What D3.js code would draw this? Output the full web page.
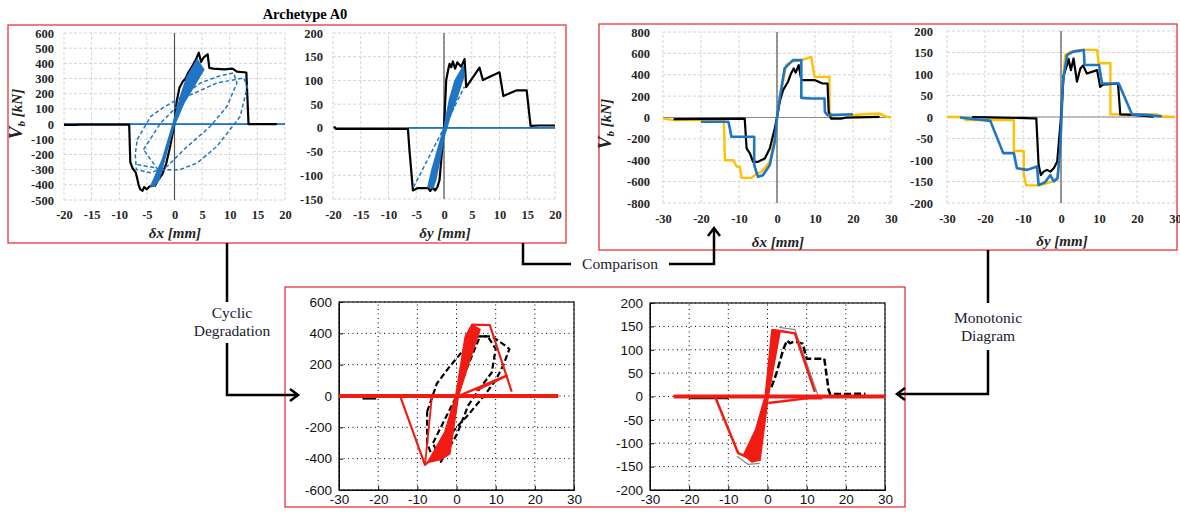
<!DOCTYPE html>
<html>
<head>
<meta charset="utf-8">
<script src="https://cdn.jsdelivr.net/npm/d3@7"></script>
<style>
  body { margin: 0; background: #fff; }
  svg { display: block; }
  .serif { font-family: "Liberation Serif", "DejaVu Serif", "Times New Roman", serif; }
  .sans { font-family: "Liberation Sans", Arial, sans-serif; }
</style>
</head>
<body>
<div id="chart"></div>
<script>

// ---------- data ([displacement mm, Vb kN]) ----------

// panel 1 : cyclic, dx
var dxBlack = [[-20,-5],[-18,-5],[-17,-3],[-8.2,-3],[-8,-250],[-7.6,-290],[-7,-320],[-6.8,-350],[-6.5,-400],[-6.2,-430],
  [-5.8,-440],[-5.5,-415],[-5,-430],[-4.5,-410],[-3.5,-405],[-3,-370],[-2.2,-330],[-1.5,-260],[-0.8,-150],[0,0],
  [0.4,150],[0.9,240],[1.5,280],[2,300],[2.5,340],[3.2,380],[3.8,420],[4.4,470],[4.8,410],[5.3,440],[6,460],[6.3,370],
  [7,365],[9,360],[10.5,365],[11.3,345],[13,340],[13.4,0],[18.5,0]];
var dxBlueBand = [[-4.3,-410],[-2.2,-234],[-0.4,-14],[1.1,183],[2.3,315],[4.1,425],[5.3,359],[3.5,249],[1.7,139],
  [-0.1,-14],[-1.3,-168],[-2.8,-366],[-3.7,-410]];
var dxBlueLoopA = [[-6.75,-102],[-4.3,51],[-2,110],[0.5,161],[4.7,271],[8,315],[10.7,337],[11.3,271],[9.5,117],
  [6.5,-14],[1.7,-168],[-1.3,-278],[-4.3,-321],[-6.9,-300],[-7.1,-200],[-6.75,-102]];
var dxBlueLoopB = [[-5.6,-168],[-2.5,8],[2.3,183],[7.7,271],[12.5,304],[13.2,249],[11.9,51],[7.7,-146],[4.1,-256],
  [1,-300],[-3,-300],[-5.6,-168]];
var dxBlueFlat = [[-6.75,-267],[-3.4,-288]];
var dxZero = [[-20,0],[20,0]];

// panel 2 : cyclic, dy
var dyBlack = [[-19.8,3],[-19.5,-2],[-6.5,-2],[-6.2,-50],[-5.6,-132],[-4.7,-127],[-2.8,-127],[-2.5,-133],[-2,-126],
  [-1.6,-132],[-1.2,-125],[-0.8,-110],[0,0],[0.4,101],[0.8,125],[1,135],[1.3,128],[1.6,140],[2,125],[2.4,138],
  [3.1,129],[3.7,145],[4,86],[6.4,127],[7,101],[10,117],[10.7,67],[13,79],[14.9,79],[15.6,4],[17,5],[20,5]];
var dyBlueBand = [[-2.9,-125],[-2.2,-90],[-1,-40],[0,0],[1,60],[2,100],[3,120],[3.5,130],[3.6,110],[2.5,70],[1,20],
  [0,-20],[-0.8,-70],[-1.5,-110],[-2,-127]];
var dyBlueDash = [[-5.5,-125],[0,0],[3.7,87]];
var dyZero = [[-6.5,0],[20,0]];

// panel 3 : comparison, dx
var cxBlack = [[-27.2,-16],[-8.5,-10],[-8,-290],[-7.1,-337],[-6.3,-415],[-5,-415],[-4.2,-400],[-3.2,-384],[-1.9,-290],
  [-0.6,-103],[0,0],[0.7,147],[1.6,256],[2.9,334],[3.7,412],[4.4,459],[4.9,420],[5.7,490],[6.4,350],[9.9,350],
  [12,318],[13.3,318],[13.6,53],[14.2,-10],[16.8,-10],[18,-2],[27,6]];
var cxYellow = [[-30,-10],[-27,-25],[-14,-25],[-13.7,-400],[-11.5,-400],[-10.6,-460],[-9.8,-460],[-9.3,-565],
  [-6.7,-565],[-5.5,-530],[-4.1,-510],[-1.9,-415],[-0.6,-197],[0,0],[1.1,240],[2.4,490],[3.7,520],[6.4,537],
  [9,568],[9.9,380],[13.8,380],[13.8,53],[14.6,22],[20,22],[22,28],[27,37],[28.8,6],[30,0]];
var cxBlue = [[-20,-40],[-12.8,-40],[-12.4,-103],[-12,-180],[-6,-180],[-6,-446],[-5,-555],[-3.7,-540],[-1.9,-445],
  [-0.6,-228],[0,0],[0.7,178],[2,459],[4.2,537],[6.4,537],[6.4,184],[9,178],[12.5,178],[12.6,53],[13.3,22],[20,31]];

// panel 4 : comparison, dy
var cyBlack = [[-23.4,0],[-19.4,-1],[-7.2,-3],[-6.5,-3],[-5.9,-111],[-5.3,-135],[-4.6,-127],[-3.7,-123],[-2.8,-127],
  [-1.9,-119],[-1,-104],[0,0],[0.7,97],[1.6,121],[2,135],[2.6,109],[3.3,136],[4.2,82],[5.1,113],[5.8,120],
  [6.8,101],[9.5,109],[10.3,70],[11,75],[15,78],[15.6,6],[19,5],[24.3,1]];
var cyYellow = [[-30,0],[-26,0],[-25,-7],[-12.4,-7],[-12.4,-79],[-9.8,-79],[-9.8,-133],[-9.2,-159],[-5.9,-159],
  [-3.7,-154],[-1,-146],[-0.2,-73],[0.5,82],[1.1,144],[2.5,152],[5.1,156],[9.5,156],[9.9,125],[13,125],[13,6],
  [18.2,6],[25.2,6],[27,1],[30,0]];
var cyBlue = [[-26.6,-1],[-18.6,-9],[-15.2,-84],[-12.4,-84],[-11.6,-119],[-8.9,-123],[-6.3,-115],[-5.9,-158],
  [-4.2,-152],[-2.8,-135],[-1.9,-150],[-0.9,-142],[-0.2,-73],[0.5,82],[1.6,144],[2,146],[3.3,152],[6,156],
  [6.2,121],[8.6,121],[10,121],[10.8,78],[15.2,78],[18.7,6],[22.6,5],[26.5,1]];

// panel 5 : degraded model, dx
var rxZero = [[-30,0],[26,0]];
var rxBand = [[-7.4,-425],[-3,-230],[-0.2,0],[2.2,378],[3.9,455],[6,425],[3,200],[0.5,0],[-1.7,-370],[-4,-405]];
var rxOuter = [[-14.4,0],[-8.05,-440],[-6.8,-410]];
var rxTop = [[3.9,455],[8.5,453],[14.1,27]];
var rxDrop = [[-6.3,-10],[-8,-430]];
var rxSlope = [[0,-5],[12.8,130],[5,35]];
var rxDashA = [[-7.5,-100],[-5,80],[-2,180],[2,300],[5,380],[9,380],[12,330],[13.5,300],[12,200],[10,100],[7,0],
  [3,-120],[0,-200],[-3,-290],[-6,-400],[-7.5,-300],[-7.5,-100]];
var rxDashB = [[-6,-300],[-3,-150],[0,0],[3,200],[6,380],[8,380],[10,300],[9,150],[6,50],[3,-60],[0,-250],
  [-4,-420],[-6,-300]];
var rxBlackL = [[-24,-15],[-20.5,-15]];
var rxBlackR = [[18,0],[22,0]];

// panel 6 : degraded model, dy
var ryZero = [[-24,0],[30,0]];
var ryZero2 = [[0.2,-14],[10,-4],[14,-4]];
var ryBand = [[-6.1,-125],[-3,-70],[-0.6,0],[1.1,142],[3.2,138],[1.5,60],[0.2,0],[-1.9,-136],[-4,-140]];
var ryLeft = [[-13.4,0],[-10,-70],[-7.5,-121],[-5.3,-129]];
var ryRight = [[1.1,142],[3.2,140],[7,135],[12.1,10]];
var ryGrayL = [[-7.8,-128],[-5,-145],[-2,-143]];
var ryGrayR = [[3,148],[7,143],[13,0]];
var ryDash = [[1,20],[2.3,50],[4,100],[5,120],[5.7,114],[7,118],[9,113],[10,81],[14.5,81],[15.6,14],[16,5],[25,6]];
var ryDashL = [[-20,-3],[-10,-3]];

// tick values
var ticks20 = [-20,-15,-10,-5,0,5,10,15,20];
var ticks30 = [-30,-20,-10,0,10,20,30];
var ticksVx1 = [-500,-400,-300,-200,-100,0,100,200,300,400,500,600];
var ticksVy1 = [-150,-100,-50,0,50,100,150,200];
var ticks800 = [-800,-600,-400,-200,0,200,400,600,800];
var ticks200 = [-200,-150,-100,-50,0,50,100,150,200];
var ticks600 = [-600,-400,-200,0,200,400,600];

// ---------- drawing ----------

var W = 1180, H = 516;
var cBlue = "#1f74c4", cYellow = "#ffc000", cRed = "#f01c14", cFrame = "#e8343a";

var svg = d3.select("#chart").append("svg").attr("width", W).attr("height", H);

// red frames
[[8,25,558,218],[599,24,578,226],[285,287,620,220]].forEach(function(r) {
  svg.append("rect").attr("x", r[0]).attr("y", r[1]).attr("width", r[2]).attr("height", r[3])
    .attr("fill", "none").attr("stroke", cFrame).attr("stroke-width", 1.3);
});

svg.append("text").attr("class", "serif").attr("x", 305).attr("y", 19).attr("text-anchor", "middle")
  .style("font-size", "14.5px").style("font-weight", "bold").text("Archetype A0");

function panel(o) {
  var x = d3.scaleLinear().domain(o.xd).range(o.xr);
  var y = d3.scaleLinear().domain(o.yd).range(o.yr);
  var g = svg.append("g");
  var excel = o.style === "excel";

  // grid
  g.selectAll(".gx").data(o.xt).enter().append("line")
    .attr("x1", function(d) { return x(d); }).attr("x2", function(d) { return x(d); })
    .attr("y1", o.yr[0]).attr("y2", o.yr[1])
    .attr("stroke", excel ? "#d4d4d4" : "#000")
    .attr("stroke-width", 1)
    .attr("stroke-dasharray", excel ? "3,2" : "1,3.5");
  g.selectAll(".gy").data(o.yt).enter().append("line")
    .attr("y1", function(d) { return y(d); }).attr("y2", function(d) { return y(d); })
    .attr("x1", o.xr[0]).attr("x2", o.xr[1])
    .attr("stroke", excel ? "#d4d4d4" : "#000")
    .attr("stroke-width", 1)
    .attr("stroke-dasharray", excel ? "3,2" : "1,3.5");

  var fmt = function(d) { return String(d); };   // plain hyphen minus like the source
  var ax = d3.axisBottom(x).tickValues(o.xt).tickFormat(fmt);
  var ay = d3.axisLeft(y).tickValues(o.yt).tickFormat(fmt);

  if (excel) {
    ax.tickSize(0).tickPadding(o.xpad);
    ay.tickSize(0).tickPadding(o.ypad);
    // axis lines through zero
    g.append("line").attr("x1", x(0)).attr("x2", x(0)).attr("y1", o.yr[0]).attr("y2", o.yr[1])
      .attr("stroke", "#555").attr("stroke-width", 1.2);
    g.append("line").attr("x1", o.xr[0]).attr("x2", o.xr[1]).attr("y1", y(0)).attr("y2", y(0))
      .attr("stroke", "#8a8a8a").attr("stroke-width", 1.2);
  } else {
    ax.tickSize(-4).tickPadding(o.xpad);
    ay.tickSize(-4).tickPadding(o.ypad);
  }

  var gx = g.append("g").attr("transform", "translate(0," + o.yr[0] + ")").call(ax);
  var gy = g.append("g").attr("transform", "translate(" + o.xr[0] + ",0)").call(ay);
  [gx, gy].forEach(function(a) {
    a.attr("font-family", null).attr("font-size", null);
    a.selectAll("text")
      .attr("class", excel ? "serif" : "sans")
      .style("font-size", excel ? "12.5px" : "13.5px")
      .style("font-weight", excel ? "bold" : "normal")
      .attr("fill", excel ? "#262626" : "#111");
    if (excel) a.select(".domain").remove();
  });

  if (!excel) {
    g.append("rect").attr("x", o.xr[0]).attr("y", o.yr[1])
      .attr("width", o.xr[1] - o.xr[0]).attr("height", o.yr[0] - o.yr[1])
      .attr("fill", "none").attr("stroke", "#111").attr("stroke-width", 1.2);
  }

  var line = d3.line().x(function(d) { return x(d[0]); }).y(function(d) { return y(d[1]); });
  var area = d3.line().x(function(d) { return x(d[0]); }).y(function(d) { return y(d[1]); }).curve(d3.curveLinearClosed);

  return {
    g: g, x: x, y: y,
    path: function(data, color, width, dash) {
      g.append("path").attr("d", line(data)).attr("fill", "none")
        .attr("stroke", color).attr("stroke-width", width)
        .attr("stroke-linejoin", "round")
        .attr("stroke-dasharray", dash || null);
    },
    fill: function(data, color) {
      g.append("path").attr("d", area(data)).attr("fill", color)
        .attr("stroke", color).attr("stroke-width", 1.5).attr("stroke-linejoin", "round");
    }
  };
}

function xTitle(txt, cx, cy) {
  svg.append("text").attr("class", "serif").attr("x", cx).attr("y", cy).attr("text-anchor", "middle")
    .style("font-size", "15px").style("font-style", "italic").style("font-weight", "bold")
    .attr("fill", "#222").text(txt);
}

function yTitle(cx, cy) {
  var t = svg.append("text").attr("class", "serif")
    .attr("transform", "translate(" + cx + "," + cy + ") rotate(-90)")
    .attr("text-anchor", "middle")
    .style("font-size", "15px").style("font-style", "italic").style("font-weight", "bold")
    .attr("fill", "#222");
  t.append("tspan").style("font-size", "19px").text("V");
  t.append("tspan").style("font-size", "11px").attr("dy", 3).text("b");
  t.append("tspan").attr("dy", -3).text(" [kN]");
}

// panel 1
var p1 = panel({ style: "excel", xd: [-20, 20], xr: [64, 285], yd: [-500, 600], yr: [200, 33],
  xt: ticks20, yt: ticksVx1, xpad: 10, ypad: 10 });
p1.path(dxZero, cBlue, 1.8);
p1.path(dxBlack, "#000", 2.2);
p1.fill(dxBlueBand, cBlue);
p1.path(dxBlueLoopA, cBlue, 1.5, "4,2.5");
p1.path(dxBlueLoopB, cBlue, 1.5, "4,2.5");
p1.path(dxBlueFlat, cBlue, 1.5, "4,2.5");
xTitle("δx [mm]", 175, 238);
yTitle(22, 114);

// panel 2
var p2 = panel({ style: "excel", xd: [-20, 20], xr: [333, 555], yd: [-150, 200], yr: [199, 33],
  xt: ticks20, yt: ticksVy1, xpad: 11, ypad: 10 });
p2.path(dyZero, cBlue, 1.8);
p2.path(dyBlack, "#000", 2.2);
p2.fill(dyBlueBand, cBlue);
p2.path(dyBlueDash, cBlue, 1.5, "4,2.5");
xTitle("δy [mm]", 445, 238);

// panel 3
var p3 = panel({ style: "excel", xd: [-30, 30], xr: [663, 891], yd: [-800, 800], yr: [203, 32],
  xt: ticks30, yt: ticks800, xpad: 11, ypad: 13 });
p3.path(cxYellow, cYellow, 2.4);
p3.path(cxBlack, "#000", 2.2);
p3.path(cxBlue, cBlue, 2.6);
xTitle("δx [mm]", 778, 247);
yTitle(611, 124);

// panel 4
var p4 = panel({ style: "excel", xd: [-30, 30], xr: [947, 1175], yd: [-200, 200], yr: [203, 31],
  xt: ticks30, yt: ticks200, xpad: 11, ypad: 14 });
p4.path(cyYellow, cYellow, 2.4);
p4.path(cyBlack, "#000", 2.2);
p4.path(cyBlue, cBlue, 2.6);
xTitle("δy [mm]", 1062, 246);

// panel 5
var p5 = panel({ style: "matlab", xd: [-30, 30], xr: [339, 574], yd: [-600, 600], yr: [490, 302],
  xt: ticks30, yt: ticks600, xpad: 4, ypad: 7 });
p5.path(rxBlackL, "#000", 2.5);
p5.path(rxBlackR, "#000", 2.5);
p5.path(rxDashA, "#000", 2.2, "6,3");
p5.path(rxDashB, "#000", 2.2, "6,3");
p5.path(rxZero, cRed, 4);
p5.fill(rxBand, cRed);
p5.path(rxOuter, cRed, 2.2);
p5.path(rxTop, cRed, 2.2);
p5.path(rxDrop, cRed, 1.8);
p5.path(rxSlope, cRed, 2.4);

// panel 6
var p6 = panel({ style: "matlab", xd: [-30, 30], xr: [650, 885], yd: [-200, 200], yr: [490, 303],
  xt: ticks30, yt: ticks200, xpad: 4, ypad: 7 });
p6.path(ryDashL, "#000", 2.5);
p6.path(ryDash, "#000", 2.5, "7,3");
p6.path(ryGrayL, "#888", 1.2);
p6.path(ryGrayR, "#888", 1.2);
p6.path(ryZero, cRed, 4);
p6.path(ryZero2, cRed, 2.5);
p6.fill(ryBand, cRed);
p6.path(ryLeft, cRed, 2.5);
p6.path(ryRight, cRed, 2.5);

// ---------- connectors ----------

function conn(d) {
  svg.append("path").attr("d", d).attr("fill", "none").attr("stroke", "#000")
    .attr("stroke-width", 2.5).attr("stroke-linejoin", "miter");
}
function label(lines, cx, cy) {
  var t = svg.append("text").attr("class", "serif").attr("text-anchor", "middle")
    .style("font-size", "15.5px").attr("fill", "#1a1a2e");
  lines.forEach(function(s, i) {
    t.append("tspan").attr("x", cx).attr("y", cy + i * 18).text(s);
  });
}

conn("M227,243V302");
conn("M227,343V395H298");
conn("M290,389L298,395L290,401");
label(["Cyclic", "Degradation"], 232, 318);

conn("M523,243V264H571");
conn("M669,264H714V229");
conn("M708,236L714,228L720,236");
label(["Comparison"], 620, 269);

conn("M988,250V303");
conn("M988,350V394H897");
conn("M905,388L897,394L905,400");
label(["Monotonic", "Diagram"], 988, 323);

</script>
</body>
</html>
